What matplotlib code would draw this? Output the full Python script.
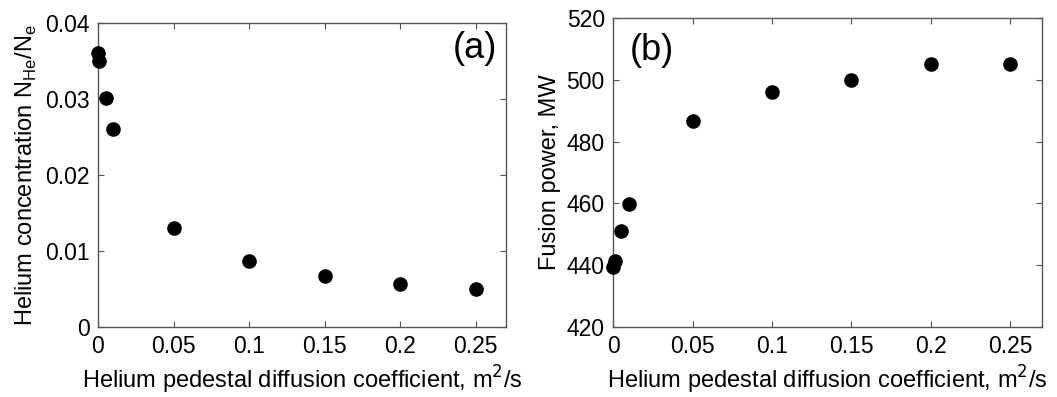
import numpy as np
import matplotlib.pyplot as plt

plt.rcParams['font.family'] = ['Liberation Sans', 'DejaVu Sans']

# helium pedestal diffusion coefficient, m^2/s
d_he = [0, 0.001, 0.005, 0.01, 0.05, 0.1, 0.15, 0.2, 0.25]
# helium concentration N_He/N_e
c_he = [0.0361, 0.0350, 0.0301, 0.0260, 0.0130, 0.0087, 0.0067, 0.0057, 0.0050]
# fusion power, MW
p_fus = [439.6, 441.4, 451.2, 459.8, 486.6, 496.1, 499.9, 505.0, 505.0]

xticks = [0, 0.05, 0.1, 0.15, 0.2, 0.25]
xticklabels = ['0', '0.05', '0.1', '0.15', '0.2', '0.25']

fig = plt.figure(figsize=(10.57, 3.97), dpi=100)
ax1 = fig.add_axes([0.0927, 0.176, 0.386, 0.766])
ax2 = fig.add_axes([0.580, 0.176, 0.406, 0.779])

def style(ax):
    ax.set_xlim(0, 0.27)
    ax.set_xticks(xticks)
    ax.set_xticklabels(xticklabels)
    ax.tick_params(direction='in', top=True, right=True, labelsize=16.5,
                   length=4, width=0.8, color='#555555', pad=6)
    for s in ax.spines.values():
        s.set_color('#555555')
        s.set_linewidth(1.0)
    ax.set_xlabel('Helium pedestal diffusion coefficient, m$^2$/s', fontsize=17, labelpad=4)

ax1.plot(d_he, c_he, 'o', color='black', markersize=9.5, clip_on=False, zorder=3)
style(ax1)
ax1.set_ylim(0, 0.04)
ax1.set_yticks([0, 0.01, 0.02, 0.03, 0.04])
ax1.set_yticklabels(['0', '0.01', '0.02', '0.03', '0.04'])
ax1.set_ylabel('Helium concentration N$_{\\mathregular{He}}$/N$_{\\mathregular{e}}$', fontsize=17, labelpad=4)
ax1.text(0.925, 0.915, '(a)', transform=ax1.transAxes, fontsize=26, ha='center', va='center')

ax2.plot(d_he, p_fus, 'o', color='black', markersize=9.5, clip_on=False, zorder=3)
style(ax2)
ax2.set_ylim(420, 520)
ax2.set_yticks([420, 440, 460, 480, 500, 520])
ax2.set_ylabel('Fusion power, MW', fontsize=17, labelpad=4)
ax2.text(0.09, 0.895, '(b)', transform=ax2.transAxes, fontsize=26, ha='center', va='center')

fig.savefig('out.png', dpi=100)
